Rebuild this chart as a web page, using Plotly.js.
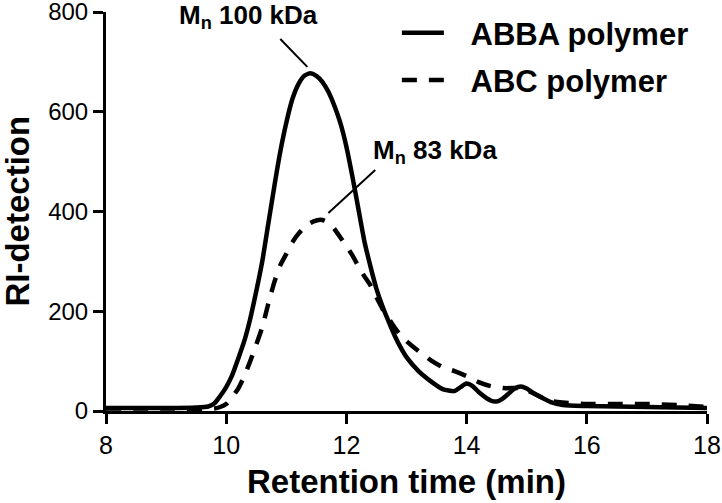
<!DOCTYPE html>
<html>
<head>
<meta charset="utf-8">
<script src="https://cdn.plot.ly/plotly-3.0.1.min.js"></script>
<style>
  html, body { margin: 0; padding: 0; background: #fff; }
  #chart { width: 722px; height: 503px; }
</style>
</head>
<body>
<div id="chart"></div>
<script>
// Retention time (min) and RI-detection values
const abbaTime = [8.0, 8.5, 9.0, 9.5, 9.7, 9.8, 9.9, 10.0, 10.1, 10.2, 10.3, 10.4, 10.5, 10.6, 10.7, 10.8, 10.9, 11.0, 11.1, 11.2, 11.3, 11.4, 11.5, 11.6, 11.7, 11.8, 11.9, 12.0, 12.1, 12.2, 12.3, 12.4, 12.5, 12.6, 12.7, 12.8, 12.9, 13.0, 13.2, 13.4, 13.6, 13.8, 13.9, 14.0, 14.1, 14.2, 14.4, 14.5, 14.6, 14.7, 14.8, 14.9, 15.0, 15.1, 15.2, 15.4, 15.6, 16.0, 16.5, 17.0, 17.5, 18.0];
const abbaRI   = [6, 6, 6, 7, 9, 15, 30, 48, 72, 105, 140, 185, 240, 300, 375, 450, 520, 578, 625, 655, 672, 677, 672, 660, 640, 612, 577, 530, 470, 405, 340, 290, 245, 210, 180, 152, 128, 108, 80, 60, 44, 40, 48, 55, 50, 38, 21, 19, 25, 35, 45, 49, 45, 37, 30, 18, 12, 10, 9, 8, 7, 6];

const abcTime = [8.0, 9.0, 9.8, 9.9, 10.0, 10.1, 10.2, 10.3, 10.4, 10.5, 10.6, 10.7, 10.8, 10.9, 11.0, 11.1, 11.2, 11.3, 11.4, 11.5, 11.6, 11.7, 11.8, 11.9, 12.0, 12.1, 12.2, 12.3, 12.4, 12.5, 12.6, 12.7, 12.8, 12.9, 13.0, 13.2, 13.4, 13.6, 13.8, 14.0, 14.2, 14.4, 14.6, 14.8, 14.9, 15.0, 15.2, 15.4, 15.6, 16.0, 16.5, 17.0, 17.5, 18.0];
const abcRI   = [5, 5, 5, 8, 14, 28, 45, 70, 100, 133, 168, 215, 258, 292, 315, 338, 355, 368, 377, 382, 383, 378, 365, 348, 330, 312, 290, 270, 252, 228, 205, 186, 168, 152, 140, 120, 102, 88, 80, 70, 58, 50, 46, 46, 46, 42, 30, 20, 17, 14, 14, 14, 12, 8];

const seriesNames = ["ABBA polymer", "ABC polymer"];
const xTicks = [8, 10, 12, 14, 16, 18];
const yTicks = [0, 200, 400, 600, 800];
const xTitle = "Retention time (min)";
const yTitle = "RI-detection";
const peakLabels = ["M<sub>n</sub> 100 kDa", "M<sub>n</sub> 83 kDa"];
// label anchor (x, y) and leader line (from -> to) in data units
const labelX = [10.37, 13.48];
const labelY = [791, 521];
const leaderX0 = [10.9, 12.48];
const leaderY0 = [746, 483];
const leaderX1 = [11.35, 11.7];
const leaderY1 = [690, 397];

const FONT = "Liberation Sans, Arial, Helvetica, sans-serif";
const LEGEND_PAD = "\u2002\u2009"; // visual gap between legend sample and its label

const traces = [
  {
    x: abbaTime, y: abbaRI, name: LEGEND_PAD + seriesNames[0], type: "scatter", mode: "lines",
    line: { color: "#000", width: 4.5, shape: "spline", smoothing: 0.6 },
    legendgroup: "a"
  },
  {
    x: abcTime, y: abcRI, name: LEGEND_PAD + seriesNames[1], type: "scatter", mode: "lines",
    line: { color: "#000", width: 4.5, dash: "15px,12px", shape: "spline", smoothing: 0.6 },
    legendgroup: "b"
  }
];

const annotations = peakLabels.map((t, i) => ({
  x: labelX[i], y: labelY[i], xref: "x", yref: "y",
  text: "<b>" + t + "</b>", showarrow: false,
  font: { family: FONT, size: 26, color: "#000" },
  xanchor: "center", yanchor: "middle"
}));
// y-axis title placed as a rotated annotation so it can sit further left than the axis standoff allows
annotations.push({
  x: -0.148, y: 0.5, xref: "paper", yref: "paper",
  text: "<b>" + yTitle + "</b>", textangle: -90, showarrow: false,
  font: { family: FONT, size: 33, color: "#000" },
  xanchor: "center", yanchor: "middle"
});

const shapes = leaderX0.map((x0, i) => ({
  type: "line", xref: "x", yref: "y",
  x0: x0, y0: leaderY0[i], x1: leaderX1[i], y1: leaderY1[i],
  line: { color: "#000", width: 2 }
}));

const layout = {
  width: 722, height: 503,
  margin: { l: 106, r: 15, t: 12, b: 92, pad: 0, autoexpand: false },
  paper_bgcolor: "#fff", plot_bgcolor: "#fff",
  font: { family: FONT, color: "#000" },
  showlegend: true,
  legend: {
    x: 0.484, y: 1.015, xanchor: "left", yanchor: "top",
    font: { family: FONT, size: 31, color: "#000", weight: "bold" },
    bgcolor: "rgba(0,0,0,0)", borderwidth: 0,
    traceorder: "grouped", tracegroupgap: 4,
    itemwidth: 42
  },
  xaxis: {
    range: [8, 18], tickvals: xTicks, ticktext: xTicks.map(String),
    showgrid: false, zeroline: false, showline: true, linecolor: "#000", linewidth: 3,
    ticks: "outside", ticklen: 10, tickwidth: 3, tickcolor: "#000",
    ticklabeloverflow: "allow",
    tickfont: { family: FONT, size: 25, color: "#000" },
    title: { text: "<b>" + xTitle + "</b>", font: { family: FONT, size: 33, color: "#000" }, standoff: 12 }
  },
  yaxis: {
    range: [0, 800], tickvals: yTicks, ticktext: yTicks.map(String),
    showgrid: false, zeroline: false, showline: true, linecolor: "#000", linewidth: 3,
    ticks: "outside", ticklen: 10, tickwidth: 3, tickcolor: "#000",
    ticklabeloverflow: "allow",
    tickfont: { family: FONT, size: 24, color: "#000" }
  },
  annotations: annotations,
  shapes: shapes
};

Plotly.newPlot("chart", traces, layout, { staticPlot: true, displayModeBar: false });
</script>
</body>
</html>
